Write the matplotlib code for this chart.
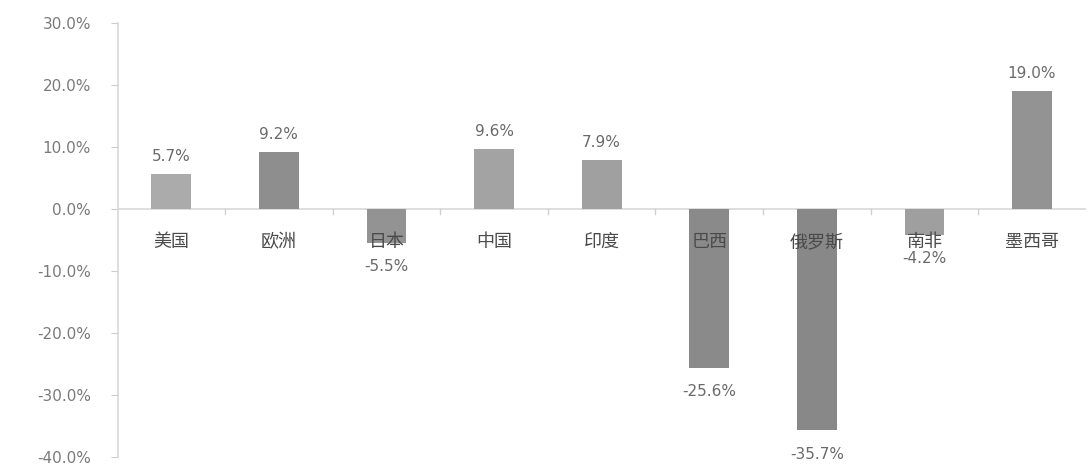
import matplotlib.pyplot as plt
import matplotlib
from matplotlib.ticker import FuncFormatter

matplotlib.rcParams['font.family'] = ['DejaVu Sans', 'Noto Sans CJK SC']

regions = ["美国", "欧洲", "日本", "中国", "印度", "巴西", "俄罗斯", "南非", "墨西哥"]
growth = [5.7, 9.2, -5.5, 9.6, 7.9, -25.6, -35.7, -4.2, 19.0]
bar_colors = ["#ababab", "#8e8e8e", "#939393", "#a3a3a3", "#a0a0a0",
              "#8a8a8a", "#888888", "#9f9f9f", "#939393"]

fig = plt.figure(figsize=(10.88, 4.66), dpi=100)
ax = fig.add_axes([0.108, 0.019, 0.89, 0.932])

x = range(len(regions))
ax.bar(x, growth, width=0.37, color=bar_colors, zorder=2)

ax.set_xlim(-0.5, len(regions) - 0.5)
ax.set_ylim(-40, 30)
ax.set_yticks(range(-40, 31, 10))
ax.yaxis.set_major_formatter(FuncFormatter(lambda v, p: "%.1f%%" % v))
ax.tick_params(axis='y', colors="#cccccc", labelcolor="#7a7a7a", labelsize=11,
               length=5, direction='out', pad=14)
ax.set_xticks([])

for side in ["top", "right", "bottom"]:
    ax.spines[side].set_visible(False)
ax.spines["left"].set_color("#d8d8d8")
ax.spines["left"].set_linewidth(1.2)

# zero line with small separators between categories
ax.axhline(0, color="#d8d8d8", lw=1.2, zorder=1)
for i in range(len(regions) - 1):
    ax.plot([i + 0.5, i + 0.5], [0, -0.8], color="#d0d0d0", lw=1, zorder=1)

for i, (name, v) in enumerate(zip(regions, growth)):
    ax.text(i, -5.3, name, ha='center', va='center', fontsize=13,
            family=['Noto Sans CJK SC', 'DejaVu Sans'],
            color="#4a4a4a", zorder=3)
    if v >= 0:
        ax.text(i, v + 1.6, "%.1f%%" % v, ha='center', va='bottom',
                fontsize=11, color="#6a6a6a", zorder=3)
    else:
        ax.text(i, v - 2.6, "%.1f%%" % v, ha='center', va='top',
                fontsize=11, color="#6a6a6a", zorder=3)

plt.savefig("out.png", dpi=100)
